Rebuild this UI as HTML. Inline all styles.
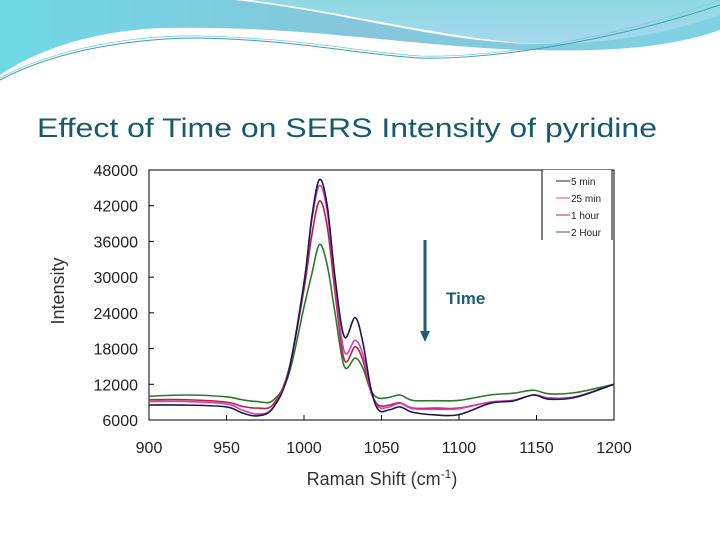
<!DOCTYPE html>
<html><head><meta charset="utf-8"><style>
html,body{margin:0;padding:0;background:#fff;}
svg{display:block;font-family:"Liberation Sans",sans-serif;}
</style></head><body>
<svg id="c" width="720" height="540" viewBox="0 0 720 540">
<defs>
<linearGradient id="g1" x1="0" y1="0" x2="1" y2="0"><stop offset="0" stop-color="#6fd8e6"/><stop offset="0.5" stop-color="#86c6dc"/><stop offset="1" stop-color="#7dd3e3"/></linearGradient>
<linearGradient id="g2" x1="0" y1="0" x2="0" y2="1"><stop offset="0" stop-color="#8fd9e2"/><stop offset="1" stop-color="#a6d8ee"/></linearGradient>
</defs>
<g>
<path d="M0,0 L720,0 L720,30 C650,55 560,50 520,50 C400,45 300,25 160,28 C80,32 30,55 0,75 Z" fill="url(#g1)"/>
<path d="M235,0 L720,0 L720,12 C640,40 560,48 500,42 C420,36 330,10 235,0 Z" fill="#fff"/>
<path d="M250,0 L720,0 L720,15 C650,40 570,48 510,42 C430,34 340,12 250,0 Z" fill="url(#g2)"/>
<path d="M0,80 C60,48 140,38 200,38 C300,40 360,55 420,58 C480,60 600,45 720,5" fill="none" stroke="#3a9fb5" stroke-width="1"/>
<path d="M0,78 C60,46 140,35 200,36 C300,38 360,52 420,56 C480,58 600,44 720,0" fill="none" stroke="#7fcbd8" stroke-width="0.8"/>
</g>
<text x="37" y="137" font-size="27" fill="#17596e" textLength="620" lengthAdjust="spacingAndGlyphs">Effect of Time on SERS Intensity of pyridine</text>
<rect x="149" y="170" width="465" height="250" fill="#fff" stroke="#000" stroke-width="1"/>
<g id="yt"></g>
<g id="xt"></g>
<text transform="translate(64,291) rotate(-90)" text-anchor="middle" font-size="18" fill="#333">Intensity</text>
<text x="382" y="485" text-anchor="middle" font-size="18" fill="#333">Raman Shift (cm<tspan dy="-7" font-size="12">-1</tspan><tspan dy="7">)</tspan></text>
<g id="series"></g>
<g>
<line x1="425" y1="240" x2="425" y2="332" stroke="#1b5e78" stroke-width="3"/>
<polygon points="420,331 430,331 425,342" fill="#1b5e78"/>
</g>
<text x="446" y="304" font-size="17" font-weight="bold" fill="#1b5e78">Time</text>
<g>
<rect x="542" y="170" width="70" height="70" fill="#fff"/>
<line x1="542" y1="170" x2="542" y2="240" stroke="#000"/>
<line x1="612" y1="170" x2="612" y2="240" stroke="#000"/>
<g id="leg"></g>
</g>
</svg>
<script>
const xs=[900,925,950,960,970,980,990,1000,1005,1010,1015,1020,1026,1033,1038,1043,1048,1055,1062,1070,1085,1100,1120,1135,1148,1158,1175,1200];
const s5min=[8520,8500,8200,7200,6700,8000,14000,29000,40000,46400,42000,30000,20000,23200,19000,11500,7700,7700,8200,7300,6850,6900,8800,9200,10200,9500,9800,12000];
const s25min=[9100,9100,8700,7700,7000,8100,14200,29000,39500,45400,41000,29000,17500,19400,17000,11000,8200,8200,8800,7900,7800,7900,9000,9300,10200,9700,9900,12000];
const s1hour=[9400,9400,9000,8300,8000,8600,14300,28000,37000,42800,38500,27500,16100,18300,16000,10800,8500,8500,8900,8000,8000,8000,9000,9300,10200,9700,9900,12000];
const s2hour=[10000,10200,9900,9400,9100,9300,13500,25000,30500,35500,32000,24000,15000,16400,14700,11000,9700,9800,10200,9300,9250,9300,10200,10500,11000,10400,10600,12000];
const seriesNames=["5 min","25 min","1 hour","2 Hour"];
const yTicks=[6000,12000,18000,24000,30000,36000,42000,48000];
const xTicks=[900,950,1000,1050,1100,1150,1200];
const colors=["#1a1a4a","#d040c0","#c02040","#2a7a2a"];
const NS="http://www.w3.org/2000/svg";
const X=v=>149+(v-900)/300*465, Y=v=>420-(v-6000)/42000*250;
function mk(t,a,p){const e=document.createElementNS(NS,t);for(const k in a)e.setAttribute(k,a[k]);p.appendChild(e);return e;}
const yt=document.getElementById('yt'),xt=document.getElementById('xt');
yTicks.forEach(v=>{
 const l=mk('line',{x1:149,x2:154,y1:Y(v),y2:Y(v),stroke:'#000'},yt);
 
 
 const t=mk('text',{x:138,y:Y(v)+6,'text-anchor':'end','font-size':16,fill:'#222'},yt);
 t.textContent=v;
 
 
});
xTicks.forEach(v=>{
 const l=mk('line',{x1:X(v),x2:X(v),y1:415,y2:420,stroke:'#000'},xt);
 
 
 const t=mk('text',{x:X(v),y:453,'text-anchor':'middle','font-size':16,fill:'#222'},xt);
 t.textContent=v;
 
 
});
function path(ys){
 const p=xs.map((x,i)=>[X(x),Y(ys[i])]);
 let d='M'+p[0][0]+','+p[0][1];
 for(let i=0;i<p.length-1;i++){
  const p0=p[Math.max(0,i-1)],p1=p[i],p2=p[i+1],p3=p[Math.min(p.length-1,i+2)];
  const c1=[p1[0]+(p2[0]-p0[0])/6,p1[1]+(p2[1]-p0[1])/6],c2=[p2[0]-(p3[0]-p1[0])/6,p2[1]-(p3[1]-p1[1])/6];
  d+=' C'+c1+' '+c2+' '+p2;
 }
 return d;
}
const sg=document.getElementById('series');
[s2hour,s1hour,s25min,s5min].forEach((s,j)=>{
 const i=3-j;
 const e=mk('path',{d:path(s),fill:'none',stroke:colors[i],'stroke-width':1.6},sg);
 
 
});
const leg=document.getElementById('leg');
seriesNames.forEach((n,i)=>{
 const y=181+i*17;
 const l=mk('line',{x1:556,x2:570,y1:y,y2:y,stroke:colors[i]},leg);
 
 
 const t=mk('text',{x:571,y:y+4,'font-size':10,fill:'#222'},leg);
 t.textContent=n;
 
 
});
</script>
</body></html>
